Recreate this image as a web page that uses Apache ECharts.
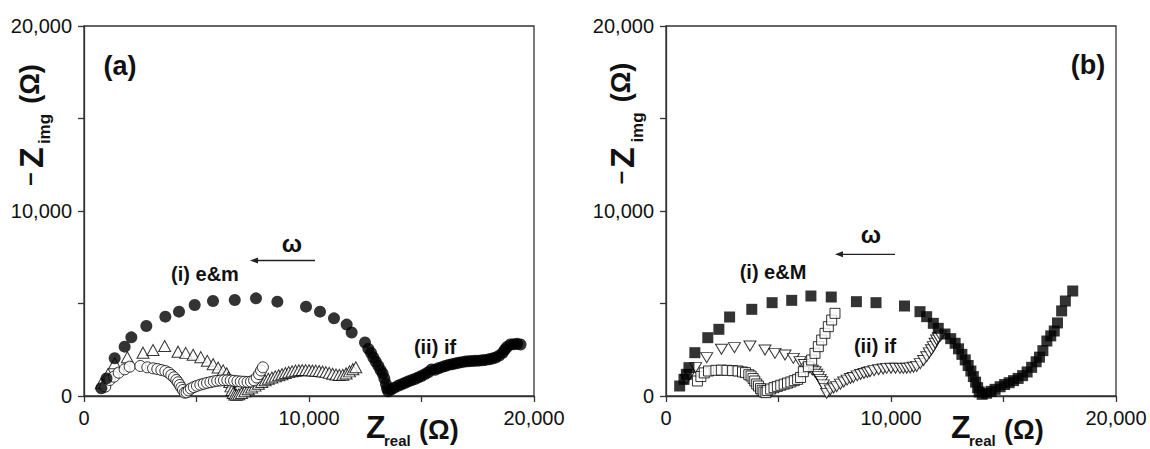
<!DOCTYPE html>
<html>
<head>
<meta charset="utf-8">
<script src="https://cdn.jsdelivr.net/npm/echarts@6/dist/echarts.min.js"></script>
<style>
html,body{margin:0;padding:0;background:#fff;}
#chart{width:1150px;height:449px;}
</style>
</head>
<body>
<div id="chart"></div>
<script>
// ---------- axis ticks ----------
const axisMin = 0;
const axisMax = 20000;
const tickStep = 5000;
const labelledTicks = [0, 10000, 20000];
const tickLabels = ['0', '10,000', '20,000'];

// ---------- panel (a) ----------
// (i) e&m + (ii) if : filled circles
const aFilledCircles = [
  [769,416],[1000,950],[1363,2038],[1807,2666],[2104,3171],[2770,3784],[3615,4288],[4222,4559],
  [4919,4919],[5733,5135],[6700,5189],[7644,5279],[8593,5099],[9867,4829],[10489,4559],[11111,4198],
  [11674,3860],[11896,3430],[12489,2890],[12637,2550],[12760,2330],[12859,2080],[12970,1850],
  [13081,1630],[13180,1400],[13274,1220],[13350,950],[13420,650],[13470,400],[13520,250],
  [13650,350],[13800,450],[13950,550],[14100,620],[14250,700],[14400,780],[14550,850],[14700,920],
  [14850,1000],[15000,1080],[15150,1180],[15300,1280],[15450,1430],[15600,1420],[15750,1500],
  [15900,1560],[16050,1620],[16200,1680],[16350,1720],[16500,1760],[16650,1800],[16800,1830],
  [16950,1860],[17100,1880],[17250,1890],[17400,1900],[17550,1910],[17700,1930],[17850,1950],
  [18000,1980],[18150,2030],[18300,2080],[18450,2180],[18600,2330],[18700,2500],[18800,2650],
  [18950,2780],[19100,2800],[19250,2820],[19400,2780]
];
// open circles
const aOpenCircles = [
  [947,505],[1141,865],[1333,1045],[1541,1261],[1807,1441],[2030,1586],[2504,1622],[2815,1550],
  [3067,1495],[3259,1459],[3437,1405],[3615,1351],[3763,1261],[3881,1135],[4000,1009],[4104,865],
  [4178,739],[4252,595],[4326,450],[4400,324],[4474,180],
  [4560,200],[4650,300],[4750,400],[4880,480],[5020,550],[5170,610],[5320,660],[5470,710],
  [5620,750],[5770,790],[5920,820],[6070,840],[6220,850],[6370,850],[6520,840],[6670,820],
  [6820,800],[6970,780],[7120,770],[7270,760],[7420,780],[7560,850],[7680,1000],[7780,1180],
  [7870,1380],[7950,1550]
];
// open triangles
const aOpenTriangles = [
  [769,685],[1067,1189],[1363,1766],[1926,2090],[2622,2342],[3067,2486],[3585,2703],[4178,2396],
  [4520,2330],[4850,2230],[5190,2100],[5480,1900],[5740,1720],[5960,1540],[6185,1385],[6341,1225],
  [6420,1000],[6480,760],[6530,520],[6580,320],[6630,160],[6700,80],[6780,60],[6880,90],
  [7000,160],[7150,260],[7300,360],[7450,460],[7600,560],[7750,660],[7900,760],[8050,850],
  [8193,930],[8350,1000],[8500,1060],[8650,1120],[8800,1180],[8950,1240],[9100,1290],[9250,1330],
  [9400,1370],[9550,1390],[9700,1400],[9850,1400],[10000,1390],[10150,1380],[10300,1370],
  [10450,1350],[10600,1320],[10750,1290],[10900,1250],[11050,1200],[11200,1160],[11350,1140],
  [11500,1150],[11650,1220],[11800,1330],[11950,1450],[12080,1550]
];

// ---------- panel (b) ----------
// (i) e&M + tail : filled squares
const bFilledSquares = [
  [608,541],[800,900],[904,1171],[1019,1532],[1282,2342],[1857,3153],[2350,3604],[2827,4270],
  [3813,4685],[4716,5045],[5587,5171],[6441,5405],[7345,5351],[8463,5099],[9334,5045],
  [10600,4865],[11289,4559],[11585,4288],[11881,3928],[12100,3658],[12400,3350],[12654,3100],
  [12850,2850],[13000,2550],[13150,2250],[13300,1950],[13430,1650],[13550,1350],[13660,1050],
  [13760,750],[13850,450],[13920,220],[14051,90],[14250,150],[14450,250],[14626,360],[14850,500],
  [15050,620],[15250,720],[15448,830],[15650,950],[15850,1100],[16050,1300],[16250,1550],
  [16450,1850],[16598,2100],[16750,2450],[16927,2973],[17100,3250],[17256,3514],[17400,3950],
  [17584,4600],[17749,5135],[18077,5676]
];
// open squares
const bOpenSquares = [
  [1397,811],[1550,1050],[1700,1250],[1890,1351],[2218,1387],[2460,1400],[2711,1387],[2960,1370],
  [3204,1351],[3400,1300],[3533,1261],[3680,1150],[3780,1081],[3870,950],[3944,811],[4030,650],
  [4109,541],[4200,400],[4273,306],[4350,220],[4437,180],
  [4500,300],[4650,380],[4800,450],[4950,520],[5100,580],[5250,640],[5400,700],[5550,760],
  [5700,830],[5850,900],[5980,1000],[6104,1315],[6326,1586],[6474,1946],[6622,2306],[6770,2667],
  [6919,3027],[7067,3387],[7215,3748],[7363,4108],[7511,4468]
];
// open down-triangles
const bOpenDownTriangles = [
  [904,901],[1050,1150],[1315,1532],[1808,2072],[2465,2523],[3040,2613],[3731,2703],[4400,2486],
  [4844,2306],[5289,2216],[5659,2036],[5956,1856],[6150,1700],[6350,1500],[6500,1400],[6622,1315],
  [6700,1180],[6770,1045],[6850,900],[6919,775],[6990,600],[7067,414],[7141,144],
  [7300,330],[7450,430],[7585,505],[7750,640],[7900,760],[8050,860],[8200,950],[8326,1000],
  [8500,1090],[8650,1160],[8800,1220],[8950,1270],[9067,1315],[9250,1370],[9450,1420],[9650,1460],
  [9807,1495],[10000,1500],[10200,1500],[10400,1495],[10548,1495],[10700,1500],[10850,1520],
  [11000,1550],[11141,1600],[11300,1750],[11450,1920],[11585,2126],[11700,2330],[11800,2500],
  [11881,2667],[11960,2850],[12030,3027],[12100,3150],[12200,3250]
];

// ---------- rendering ----------
const FONT = '"Liberation Sans", Arial, sans-serif';
const INK = '#111';
const AXIS = '#333';

function fmtTick(v) {
  const i = labelledTicks.indexOf(v);
  return i >= 0 ? tickLabels[i] : '';
}

function makeAxis(gridIndex) {
  return {
    gridIndex: gridIndex,
    type: 'value',
    min: axisMin, max: axisMax, interval: tickStep,
    axisLine: { show: true, onZero: false, lineStyle: { color: AXIS, width: 1.3 } },
    axisTick: { show: true, inside: false, length: 6, lineStyle: { color: AXIS, width: 1.3 } },
    axisLabel: { formatter: fmtTick, margin: 12, fontSize: 20, fontFamily: FONT, color: INK },
    splitLine: { show: false }
  };
}

const open = { color: '#fff', borderColor: '#000', borderWidth: 1 };
const filled = { color: '#000' };

function sc(data, gi, symbol, size, style, rotate) {
  return {
    type: 'scatter', xAxisIndex: gi, yAxisIndex: gi, data: data,
    symbol: symbol, symbolSize: size, symbolRotate: rotate || 0,
    itemStyle: style, silent: true, animation: false
  };
}

function txt(x, y, text, font, opts) {
  opts = opts || {};
  return {
    type: 'text', x: x, y: y, rotation: opts.rot || 0, silent: true,
    style: { text: text, font: font, fill: INK,
             textAlign: opts.align || 'center', textVerticalAlign: 'middle' }
  };
}

const B = (s) => 'bold ' + s + 'px ' + FONT;

function arrow(x1, x2, y) {
  return [
    { type: 'line', silent: true, shape: { x1: x1 + 4, y1: y, x2: x2, y2: y },
      style: { stroke: '#222', lineWidth: 1.3 } },
    { type: 'polygon', silent: true, shape: { points: [[x1, y], [x1 + 8, y - 3], [x1 + 8, y + 3]] },
      style: { fill: '#222' } }
  ];
}

const R = Math.PI / 2;
const graphics = [
  // panel a annotations
  txt(120, 66, '(a)', B(27)),
  txt(205, 274, '(i) e&m', B(20)),
  txt(435, 347, '(ii) if', B(20)),
  txt(292, 243, 'ω', B(24)),
  ...arrow(250, 315, 260.5),
  // panel a y title (rotated)
  txt(28, 179, '–', B(24), { rot: R }),
  txt(30.5, 157.5, 'Z', B(34), { rot: R }),
  txt(44.5, 129, 'img', B(17), { rot: R }),
  txt(30, 84, '(Ω)', B(27), { rot: R }),
  // panel a x title
  txt(366, 427, 'Z', B(32), { align: 'left' }),
  txt(384, 440, 'real', B(15), { align: 'left' }),
  txt(419, 430, '(Ω)', B(27), { align: 'left' }),

  // panel b annotations
  txt(1088, 65, '(b)', B(27)),
  txt(773, 272, '(i) e&M', B(20)),
  txt(875, 346, '(ii) if', B(20)),
  txt(871, 234, 'ω', B(24)),
  ...arrow(835, 895, 254.3),
  // panel b y title
  txt(619, 177.5, '–', B(24), { rot: R }),
  txt(621.5, 157.5, 'Z', B(34), { rot: R }),
  txt(637, 127.5, 'img', B(17), { rot: R }),
  txt(621, 82.5, '(Ω)', B(27), { rot: R }),
  // panel b x title
  txt(951, 427, 'Z', B(32), { align: 'left' }),
  txt(969, 440, 'real', B(15), { align: 'left' }),
  txt(1004, 430, '(Ω)', B(27), { align: 'left' })
];

const chart = echarts.init(document.getElementById('chart'), null, { renderer: 'svg' });
chart.setOption({
  animation: false,
  backgroundColor: '#fff',
  grid: [
    { left: 84, top: 26, width: 450, height: 370, show: true, borderColor: AXIS, borderWidth: 1.3, backgroundColor: 'transparent' },
    { left: 666, top: 26, width: 450, height: 370, show: true, borderColor: AXIS, borderWidth: 1.3, backgroundColor: 'transparent' }
  ],
  xAxis: [makeAxis(0), makeAxis(1)],
  yAxis: [makeAxis(0), makeAxis(1)],
  series: [
    sc(aOpenTriangles, 0, 'triangle', [12, 11], open),
    sc(aOpenCircles, 0, 'circle', 11, open),
    sc(aFilledCircles, 0, 'circle', 12, filled),
    sc(bOpenDownTriangles, 1, 'triangle', [12, 10], open, 180),
    sc(bOpenSquares, 1, 'rect', 10, open),
    sc(bFilledSquares, 1, 'rect', 11, filled)
  ],
  graphic: graphics
});
</script>
</body>
</html>
